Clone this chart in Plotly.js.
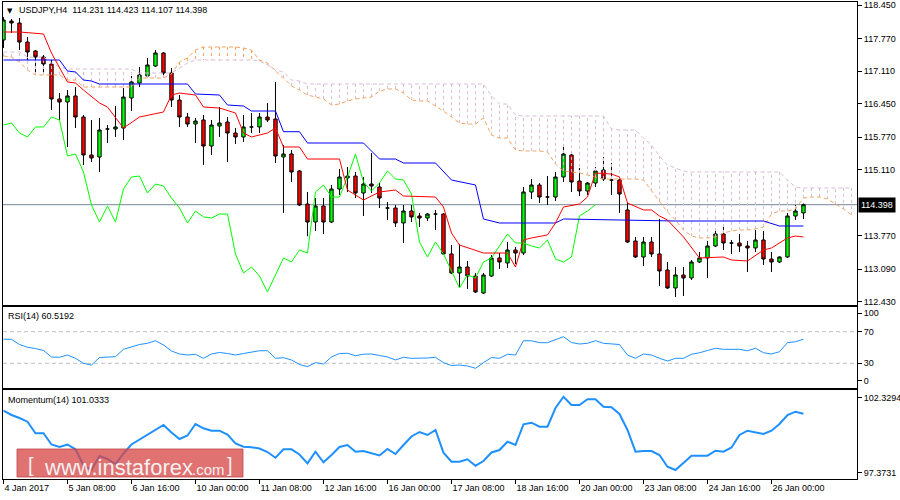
<!DOCTYPE html>
<html><head><meta charset="utf-8">
<script src="https://cdn.plot.ly/plotly-3.0.1.min.js"></script>
<style>html,body{margin:0;padding:0;background:#fff}#chart{width:900px;height:500px}</style>
</head><body><div id="chart"></div>
<script>
// ---------- DATA (USDJPY, H4) ----------
const openP = [117.740,118.125,118.085,117.699,117.517,117.395,117.253,116.543,116.482,116.604,
116.177,115.407,115.366,115.934,115.934,115.954,116.563,116.867,117.009,117.212,
117.476,117.070,116.522,116.177,116.035,116.117,115.589,115.995,116.076,115.853,
115.772,115.975,115.975,116.177,116.137,115.366,115.427,115.082,114.412,114.047,
114.372,114.047,114.716,114.940,114.980,114.636,114.818,114.757,114.331,114.331,
114.027,114.270,114.169,114.128,114.209,114.209,113.398,113.013,113.134,112.951,
112.606,112.951,113.317,113.215,113.479,113.418,114.656,114.798,114.554,114.554,
114.960,115.407,114.879,114.676,114.838,115.102,114.899,114.899,114.291,113.662,
113.337,113.641,113.398,113.073,112.708,112.972,112.911,113.236,113.317,113.560,
113.804,113.621,113.621,113.560,113.520,113.682,113.296,113.236,113.337,114.169,
114.231];
const highP = [118.207,118.166,118.186,117.801,117.537,117.436,117.334,116.664,116.725,116.786,
116.218,116.117,116.157,116.015,116.400,116.766,117.009,117.192,117.375,117.537,
117.496,117.172,116.624,116.259,116.157,116.218,116.117,116.380,116.177,115.954,
116.218,116.259,116.259,116.461,116.888,115.609,115.508,115.102,114.656,114.534,
114.534,114.798,115.122,115.163,115.062,114.960,115.447,114.838,114.453,114.392,
114.392,114.392,114.230,114.230,114.291,114.230,113.580,113.601,113.256,113.013,
113.013,113.378,113.418,113.641,113.540,114.757,114.919,114.838,114.980,115.062,
115.609,115.427,115.143,114.859,115.163,115.366,115.244,114.919,114.433,113.743,
113.743,113.743,114.108,113.236,113.134,113.134,113.276,113.438,113.662,113.905,
113.986,113.682,113.804,113.662,113.885,113.865,113.438,113.350,114.230,114.392,
114.423];
const lowP = [117.578,117.882,117.537,117.334,117.070,117.070,116.320,116.117,115.569,115.954,
115.204,115.264,115.062,115.650,115.772,115.711,116.299,116.786,116.969,117.192,
116.969,116.380,115.975,115.975,115.650,115.204,115.407,115.772,115.264,115.630,
115.670,115.853,115.853,116.076,115.244,114.230,114.859,114.372,113.757,113.864,
113.804,114.027,114.595,114.656,114.534,114.169,114.636,114.331,114.088,113.946,
113.621,114.047,113.946,114.067,113.882,113.378,112.990,112.728,112.688,112.606,
112.586,112.931,113.094,113.114,113.195,113.378,114.514,114.433,114.392,114.473,
114.859,114.656,114.575,114.595,114.757,114.879,114.595,114.230,113.621,113.320,
113.155,113.337,112.748,112.690,112.525,112.546,112.870,113.215,112.911,113.540,
113.479,113.398,113.438,113.033,113.438,113.175,113.033,113.215,113.317,114.088,
114.107];
const closeP = [118.146,118.085,117.699,117.496,117.395,117.253,116.543,116.482,116.604,116.177,
115.407,115.346,115.914,115.934,115.975,116.583,116.888,117.030,117.233,117.476,
117.070,116.522,116.177,116.035,116.096,115.589,116.015,116.056,115.853,115.772,
115.975,115.975,116.177,116.117,115.386,115.427,115.062,114.392,114.047,114.372,
114.047,114.716,114.960,114.980,114.636,114.818,114.777,114.534,114.331,114.027,
114.270,114.149,114.128,114.209,114.209,113.398,113.013,113.134,112.951,112.627,
112.972,113.317,113.236,113.479,113.418,114.656,114.798,114.554,114.554,114.960,
115.427,114.859,114.676,114.838,115.082,114.919,114.899,114.615,113.641,113.337,
113.641,113.398,113.053,112.708,112.972,112.911,113.236,113.317,113.560,113.804,
113.621,113.621,113.560,113.520,113.682,113.296,113.236,113.337,114.169,114.270,
114.398];

// Ichimoku (9,26,52)
const tenkanBar = [0,2,5,6,8,9,10,12,13,15,17,20,21,22,24,25,27,29,30,31,33,34,35,37,38,42,43,45,47,49,50,54,55,56,57,59,60,63,64,65,66,68,69,70,72,73,74,76,77,78,80,81,82,83,85,87,90,91,93,95,96,98,99,100];
const tenkanVal = [117.902,117.902,117.862,117.476,116.888,116.867,116.725,116.462,116.380,115.954,
116.177,116.279,116.624,116.664,116.624,116.380,116.360,116.259,115.853,115.772,
115.853,115.954,115.569,115.569,115.325,115.325,114.696,114.493,114.656,114.696,
114.574,114.554,114.351,113.824,113.580,113.479,113.418,113.418,113.134,113.682,
113.723,113.784,114.027,114.351,114.412,114.554,115.041,115.021,114.960,114.433,
114.291,114.291,114.169,114.088,113.743,113.317,113.337,113.276,113.256,113.479,
113.520,113.723,113.763,113.743];
const kijunBar = [0,7,8,9,10,11,12,23,24,27,28,30,31,34,35,37,38,45,47,49,50,54,56,59,60,62,69,70,84,95,97,100];
const kijunVal = [117.334,117.334,117.111,117.091,116.928,116.908,116.847,116.847,116.644,116.624,
116.421,116.401,116.299,116.299,115.879,115.879,115.650,115.650,115.325,115.325,
115.244,115.244,114.899,114.798,114.108,114.027,114.027,114.108,114.067,114.067,
113.966,113.966];
const senkouA = [117.415,117.395,117.293,117.131,117.030,117.030,117.030,117.030,116.928,116.928,
116.786,116.786,116.786,116.786,116.786,116.786,116.786,116.969,116.969,116.969,
116.969,117.050,117.293,117.375,117.537,117.598,117.598,117.598,117.598,117.598,
117.578,117.537,117.334,117.273,117.111,116.969,116.807,116.725,116.624,116.583,
116.543,116.421,116.441,116.502,116.543,116.563,116.583,116.705,116.746,116.746,
116.664,116.522,116.502,116.502,116.401,116.299,116.177,116.056,116.035,116.035,
116.157,115.812,115.751,115.751,115.508,115.488,115.488,115.488,115.467,115.224,
115.082,115.062,115.041,115.001,114.960,114.919,114.919,114.919,114.919,114.919,
114.899,114.676,114.473,114.250,114.088,113.885,113.763,113.723,113.723,113.743,
113.824,113.865,113.885,113.885,113.905,113.946,114.209,114.270,114.270,114.311,
114.534,114.554,114.554,114.514,114.412,114.311,114.189];
const senkouB = [117.496,117.496,117.496,117.395,117.395,117.395,117.273,117.192,117.151,117.151,
117.151,117.151,117.151,117.151,117.151,117.151,117.151,117.070,117.070,117.070,
117.070,117.070,117.172,117.273,117.334,117.334,117.334,117.334,117.334,117.334,
117.334,117.334,117.314,117.233,117.131,117.091,116.928,116.908,116.847,116.847,
116.847,116.847,116.847,116.847,116.847,116.847,116.847,116.847,116.847,116.847,
116.847,116.847,116.847,116.847,116.847,116.847,116.847,116.847,116.847,116.847,
116.847,116.604,116.441,116.441,116.218,116.198,116.198,116.198,116.198,116.198,
116.198,116.198,116.198,116.198,116.198,116.198,115.934,115.914,115.914,115.914,
115.751,115.609,115.386,115.204,115.143,115.082,115.062,115.062,115.062,115.062,
115.062,115.062,115.062,115.062,115.062,115.062,115.062,115.062,114.899,114.757,
114.737,114.737,114.737,114.737,114.737,114.737,114.737];
const chikouShift = 26;

const rsi = [60.4,60.4,53.8,50.3,48.7,46.2,38.0,37.6,40.5,36.3,
30.0,27.8,37.3,38.0,38.4,47.7,51.0,53.8,55.3,58.6,
53.2,45.6,41.8,40.5,41.4,36.3,41.8,43.7,42.4,40.5,
42.4,44.3,45.9,45.9,36.3,37.1,34.2,28.5,25.7,30.8,
29.1,38.0,42.4,42.7,39.6,41.5,41.8,39.9,38.0,34.2,
37.6,36.3,36.3,36.7,37.6,30.8,27.2,27.8,26.6,23.7,
30.8,37.3,36.3,41.4,40.5,58.6,58.5,56.1,56.1,60.4,
63.7,56.3,54.4,55.3,58.6,55.3,54.8,53.8,40.5,36.3,
41.8,40.5,36.3,32.9,36.3,36.3,41.4,43.3,46.2,49.0,
47.7,47.7,47.7,45.9,49.0,43.4,41.8,44.6,56.1,57.3,
60.5192];
const momentum = [101.207,100.962,100.791,100.580,99.920,99.920,99.281,99.139,99.281,99.008,
98.114,97.829,98.626,98.455,98.171,98.780,99.281,99.566,99.823,100.147,
100.392,99.965,99.595,99.794,100.449,100.204,100.068,100.068,99.851,99.339,
99.156,99.128,99.054,98.854,98.530,99.008,99.008,98.712,98.210,98.871,
98.267,98.683,99.139,99.253,98.871,98.911,98.797,98.655,99.025,98.740,
99.253,99.737,99.994,99.823,100.108,98.814,98.302,98.302,98.438,98.074,
98.341,98.826,98.968,99.441,99.253,100.432,100.523,100.296,100.296,101.361,
102.005,101.532,101.532,101.857,101.857,101.435,101.401,101.019,100.108,98.871,
98.911,98.911,98.683,98.017,97.829,98.210,98.643,98.643,98.643,98.928,
98.871,99.111,99.823,100.068,99.994,99.880,100.068,100.449,100.962,101.150,
101.0333];

const tickBars = [0,8,16,24,32,40,48,56,64,72,80,88,96];
const tickLabels = ['4 Jan 2017','5 Jan 08:00','6 Jan 16:00','10 Jan 00:00','11 Jan 08:00','12 Jan 16:00','16 Jan 00:00','17 Jan 08:00','18 Jan 16:00','20 Jan 00:00','23 Jan 08:00','24 Jan 16:00','26 Jan 00:00'];
// 114.430 lies under the current-price box in the reference, so it is not listed
const priceTicks = [118.45,117.77,117.11,116.45,115.77,115.11,113.77,113.09,112.43];
const rsiLevels = [70,30];
const rsiTickVals = [93.3,70,30,7.6];
const rsiTickText = ['100','70','30','0'];
const momTickVals = [101.948,97.675];
const momTickText = ['102.3294','97.3731'];
const header = 'USDJPY,H4\u00a0\u00a0114.231 114.423 114.107 114.398';
const lastPrice = 114.398;

// ---------- BUILD ----------
const bars = closeP.map((_, i) => i);
const cloudBars = senkouA.map((_, i) => i);

const hatch = {bull:{x:[],y:[]}, bear:{x:[],y:[]}};
cloudBars.forEach(i => {
  const g = senkouA[i] >= senkouB[i] ? hatch.bull : hatch.bear;
  g.x.push(i, i, null); g.y.push(senkouA[i], senkouB[i], null);
});

const traces = [
  {type:'candlestick', x:bars, open:openP, high:highP, low:lowP, close:closeP,
   xaxis:'x', yaxis:'y', whiskerwidth:0, hoverinfo:'skip',
   increasing:{line:{color:'#000', width:1}, fillcolor:'#00ff00'},
   decreasing:{line:{color:'#000', width:1}, fillcolor:'#ff0000'}},
  {type:'scatter', mode:'lines', x:hatch.bear.x, y:hatch.bear.y, line:{color:'#d8bfd8', width:1, dash:'3px,3px'}, hoverinfo:'skip'},
  {type:'scatter', mode:'lines', x:hatch.bull.x, y:hatch.bull.y, line:{color:'#f4a460', width:1, dash:'3px,3px'}, hoverinfo:'skip'},
  {type:'scatter', mode:'lines', x:cloudBars, y:senkouB, line:{color:'#d8bfd8', width:1, dash:'4px,3px'}, hoverinfo:'skip'},
  {type:'scatter', mode:'lines', x:cloudBars, y:senkouA, line:{color:'#f4a460', width:1, dash:'4px,3px'}, hoverinfo:'skip'},
  {type:'scatter', mode:'lines', x:bars.slice(0, bars.length - chikouShift), y:closeP.slice(chikouShift), line:{color:'#00ff00', width:1}, hoverinfo:'skip'},
  {type:'scatter', mode:'lines', x:kijunBar, y:kijunVal, line:{color:'#0000ff', width:1}, hoverinfo:'skip'},
  {type:'scatter', mode:'lines', x:tenkanBar, y:tenkanVal, line:{color:'#ff0000', width:1}, hoverinfo:'skip'},
  {type:'scatter', mode:'lines', x:bars, y:rsi, xaxis:'x2', yaxis:'y2', line:{color:'#1e90ff', width:1}, hoverinfo:'skip'},
  {type:'scatter', mode:'lines', x:bars, y:momentum, xaxis:'x3', yaxis:'y3', line:{color:'#1e90ff', width:2}, hoverinfo:'skip'}
];

const FONT = '"Liberation Sans", Arial, sans-serif';
const baseX = {showline:true, mirror:true, linecolor:'#000', linewidth:1, showgrid:false, zeroline:false,
  showticklabels:false, ticks:'', fixedrange:true};
const baseY = {side:'right', showline:true, mirror:true, linecolor:'#000', linewidth:1, showgrid:false, zeroline:false,
  ticks:'outside', ticklen:4, tickcolor:'#000', tickmode:'array', fixedrange:true,
  tickfont:{family:FONT, size:9, color:'#000'}};

const px = v => (v - 3) / 854;          // plot-area x fraction from page px
const py = v => (479 - v) / 477;        // plot-area y fraction from page px

const layout = {
  width:900, height:500, margin:{l:3, r:43, t:2, b:21},
  paper_bgcolor:'#fff', plot_bgcolor:'#fff', showlegend:false, boxgap:0.4,
  font:{family:FONT, size:9, color:'#000'},
  xaxis: Object.assign({}, baseX, {anchor:'y', range:[-0.06, 106.69], rangeslider:{visible:false}}),
  xaxis2: Object.assign({}, baseX, {anchor:'y2', matches:'x'}),
  xaxis3: Object.assign({}, baseX, {anchor:'y3', matches:'x', tickmode:'array', tickvals:tickBars, ticktext:tickLabels,
    ticks:'outside', ticklen:4, tickcolor:'#000', showticklabels:true, ticklabelposition:'outside right',
    tickfont:{family:FONT, size:9, color:'#000'}}),
  yaxis: Object.assign({}, baseY, {domain:[py(304.5), 1], range:[112.373, 118.511], tickvals:priceTicks, ticktext:priceTicks.map(v => v.toFixed(3))}),
  yaxis2: Object.assign({}, baseY, {domain:[py(388), py(306.5)], range:[-1.27, 101.9], tickvals:rsiTickVals, ticktext:rsiTickText}),
  yaxis3: Object.assign({}, baseY, {domain:[0, py(390)], range:[97.316, 102.386], tickvals:momTickVals, ticktext:momTickText}),
  shapes:[
    {type:'line', xref:'paper', x0:0, x1:1, yref:'y', y0:lastPrice, y1:lastPrice, line:{color:'#778899', width:1}, layer:'below'},
    ...rsiLevels.map(v => ({type:'line', xref:'paper', x0:0, x1:1, yref:'y2', y0:v, y1:v, line:{color:'#c0c0c0', width:1, dash:'4px,3px'}, layer:'below'})),
    {type:'rect', xref:'paper', yref:'paper', x0:px(17), x1:px(243), y0:py(477), y1:py(449), fillcolor:'rgba(216,70,70,0.76)', line:{color:'rgba(190,70,70,0.8)', width:1}, layer:'above'}
  ],
  annotations:[
    {xref:'paper', yref:'paper', x:px(5), y:py(11), text:'\u25BC', showarrow:false, xanchor:'left', yanchor:'middle', font:{family:'DejaVu Sans', size:7, color:'#000'}},
    {xref:'paper', yref:'paper', x:px(17), y:py(10), text:header, showarrow:false, xanchor:'left', yanchor:'middle', font:{family:FONT, size:9, color:'#000'}},
    {xref:'paper', yref:'paper', x:px(6), y:py(315.5), text:'RSI(14) ' + rsi[rsi.length-1].toFixed(4), showarrow:false, xanchor:'left', yanchor:'middle', font:{family:FONT, size:9, color:'#000'}},
    {xref:'paper', yref:'paper', x:px(6), y:py(399.5), text:'Momentum(14) ' + momentum[momentum.length-1].toFixed(4), showarrow:false, xanchor:'left', yanchor:'middle', font:{family:FONT, size:9, color:'#000'}},
    {xref:'paper', yref:'y', x:1, y:lastPrice, text:lastPrice.toFixed(3), showarrow:false, xanchor:'left', yanchor:'middle', xshift:1,
     bgcolor:'#000', borderpad:2, font:{family:FONT, size:9, color:'#fff'}},
    {xref:'paper', yref:'paper', x:px(27), y:py(465), text:'[', showarrow:false, xanchor:'left', yanchor:'middle', borderpad:0, font:{family:FONT, size:20, color:'#f4f0f0'}},
    {xref:'paper', yref:'paper', x:px(43), y:py(467), text:'www.instaforex', showarrow:false, xanchor:'left', yanchor:'middle', borderpad:0, font:{family:FONT, size:22, color:'#f4f0f0'}},
    {xref:'paper', yref:'paper', x:px(191), y:py(469), text:'.com', showarrow:false, xanchor:'left', yanchor:'middle', borderpad:0, font:{family:FONT, size:15, color:'#f4f0f0'}},
    {xref:'paper', yref:'paper', x:px(226), y:py(465), text:']', showarrow:false, xanchor:'left', yanchor:'middle', borderpad:0, font:{family:FONT, size:20, color:'#f4f0f0'}}
  ]
};

Plotly.newPlot('chart', traces, layout, {staticPlot:true, displayModeBar:false});
</script>
</body></html>
